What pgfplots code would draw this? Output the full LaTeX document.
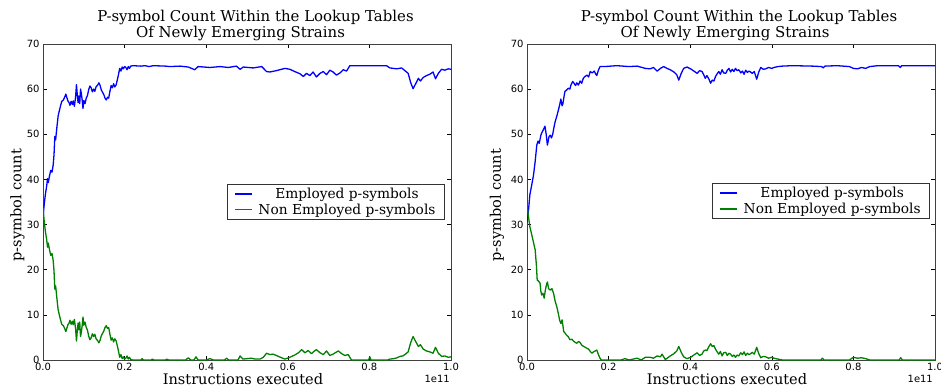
\documentclass[border=0pt]{standalone}
\usepackage{fontspec}
\setmainfont{DejaVu Serif}
\newfontfamily\tickfont{DejaVu Sans}
\usepackage{pgfplots}
\pgfplotsset{compat=1.18}
\definecolor{mplblue}{rgb}{0,0,1}
\definecolor{mplgreen}{rgb}{0,0.5,0}
\newcommand{\titfont}{\fontsize{15}{17}\selectfont}
\newcommand{\labfont}{\fontsize{14.6}{17}\selectfont}
\newcommand{\legfont}{\fontsize{13.8}{16}\selectfont}
\newcommand{\tfont}{\tickfont\fontsize{10}{12}\selectfont}
\pgfplotsset{myax/.style={
  scale only axis, width=408bp, height=316bp,
  xmin=0, xmax=1, ymin=0, ymax=70,
  xtick={0,0.2,0.4,0.6,0.8,1}, ytick={0,10,20,30,40,50,60,70},
  tick align=inside, xtick pos=both, ytick pos=both, major tick length=4bp,
  tick style={black, line width=0.6bp},
  axis line style={black!75, line width=0.9bp},
  ticklabel style={font=\tfont},
  /pgf/number format/assume math mode=true,
  xticklabel={\pgfmathprintnumber[fixed,precision=1,zerofill]{\tick}},
  yticklabel={\pgfmathprintnumber[fixed,precision=0]{\tick}},
  xlabel={Instructions executed},
  xlabel style={at={(axis description cs:0.5,0)}, anchor=base, yshift=-24bp, xshift=-4bp, font=\labfont},
  ylabel={p-symbol count},
  legend style={at={(0.985,0.557)}, anchor=north east, draw=black!80, line width=0.8bp, font=\legfont, row sep=0pt, inner xsep=7bp, inner ysep=1.5bp,
    nodes={inner sep=2bp}, /tikz/every odd column/.style={column sep=4bp}},
  legend cell align=center,
  every axis plot/.append style={line width=1.3bp, line join=round},
}}
\pgfplotstableread{
u v
0.000 31.5
0.003 34.5
0.006 36.8
0.009 38.5
0.011 40.2
0.013 39.3
0.016 40.8
0.019 42.0
0.022 41.6
0.025 43.2
0.027 45.5
0.029 49.5
0.031 48.8
0.034 51.5
0.037 54.0
0.040 55.2
0.043 56.3
0.046 57.3
0.050 57.6
0.053 58.2
0.056 58.9
0.058 58.3
0.061 57.4
0.064 57.0
0.066 56.4
0.069 57.3
0.072 56.6
0.074 57.4
0.077 56.2
0.080 58.4
0.082 61.0
0.084 58.8
0.086 57.0
0.088 58.5
0.090 56.8
0.092 60.0
0.094 59.0
0.096 57.6
0.098 55.7
0.100 57.5
0.103 56.8
0.106 58.0
0.109 58.6
0.112 59.9
0.115 60.7
0.118 60.3
0.121 59.4
0.124 60.0
0.127 59.5
0.130 60.5
0.134 60.9
0.137 61.4
0.140 60.8
0.143 59.8
0.146 59.3
0.149 58.8
0.152 58.0
0.155 57.6
0.158 58.2
0.161 58.0
0.164 59.5
0.167 60.8
0.170 60.3
0.173 61.2
0.176 60.5
0.179 60.9
0.182 62.0
0.185 63.2
0.188 64.6
0.191 64.0
0.194 64.9
0.197 64.5
0.200 65.0
0.203 64.8
0.206 64.3
0.209 65.0
0.212 64.6
0.215 65.1
0.220 65.2
0.240 65.1
0.250 65.2
0.260 65.0
0.270 65.2
0.300 65.1
0.311 65.0
0.336 65.1
0.356 64.9
0.372 64.3
0.380 65.0
0.409 64.8
0.434 65.0
0.454 64.8
0.474 65.1
0.483 64.4
0.491 64.9
0.515 64.7
0.536 65.0
0.548 63.9
0.556 63.8
0.572 64.1
0.593 64.6
0.605 64.4
0.617 63.9
0.630 63.4
0.638 62.8
0.646 63.5
0.654 63.0
0.662 63.8
0.670 62.7
0.679 63.5
0.687 63.9
0.695 63.2
0.703 64.2
0.711 63.8
0.719 63.1
0.728 63.6
0.736 64.3
0.744 64.0
0.752 65.2
0.842 65.2
0.850 64.7
0.867 64.5
0.879 64.7
0.887 64.1
0.895 63.5
0.901 61.5
0.907 60.1
0.914 61.3
0.920 62.4
0.925 61.8
0.932 62.6
0.940 63.0
0.948 63.3
0.956 63.8
0.962 62.3
0.969 63.5
0.977 64.4
0.985 64.2
0.993 64.5
1.000 64.4
}\leftblue
\pgfplotstableread{
u v
0.000 33.7
0.003 30.7
0.006 28.4
0.009 26.7
0.011 25.0
0.013 25.9
0.016 24.4
0.019 23.2
0.022 23.6
0.025 22.0
0.027 19.7
0.029 15.7
0.031 16.4
0.034 13.7
0.037 11.2
0.040 10.0
0.043 8.9
0.046 7.9
0.050 7.6
0.053 7.0
0.056 6.3
0.058 6.9
0.061 7.8
0.064 8.2
0.066 8.8
0.069 7.9
0.072 8.6
0.074 7.8
0.077 9.0
0.080 6.8
0.082 4.2
0.084 6.4
0.086 8.2
0.088 6.7
0.090 8.4
0.092 5.2
0.094 6.2
0.096 7.6
0.098 9.5
0.100 7.7
0.103 8.4
0.106 7.2
0.109 6.6
0.112 5.3
0.115 4.5
0.118 4.9
0.121 5.8
0.124 5.2
0.127 5.7
0.130 4.7
0.134 4.3
0.137 3.8
0.140 4.4
0.143 5.4
0.146 5.9
0.149 6.4
0.152 7.2
0.155 7.6
0.158 7.0
0.161 7.2
0.164 5.7
0.167 4.4
0.170 4.9
0.173 4.0
0.176 4.7
0.179 4.3
0.182 3.2
0.185 2.0
0.188 0.6
0.191 1.2
0.194 0.3
0.197 0.7
0.200 0.2
0.203 0.4
0.206 0.9
0.209 0.2
0.212 0.6
0.215 0.1
0.220 0.0
0.240 0.0
0.243 0.3
0.246 0.0
0.265 0.0
0.268 0.2
0.272 0.0
0.300 0.0
0.304 0.2
0.308 0.0
0.350 0.0
0.356 0.5
0.362 0.0
0.370 0.0
0.375 0.7
0.380 0.0
0.400 0.0
0.409 0.3
0.418 0.0
0.445 0.0
0.450 0.4
0.455 0.0
0.478 0.0
0.483 0.9
0.490 0.2
0.500 0.3
0.511 0.4
0.520 0.2
0.532 0.2
0.540 0.6
0.548 1.5
0.556 1.2
0.564 1.3
0.572 1.0
0.582 0.6
0.593 0.2
0.605 0.6
0.617 1.1
0.626 1.6
0.634 2.3
0.642 1.6
0.650 2.1
0.658 1.4
0.664 1.9
0.670 2.3
0.679 1.6
0.687 1.2
0.695 2.0
0.703 1.0
0.711 1.3
0.718 1.7
0.724 2.0
0.732 1.4
0.740 1.0
0.748 1.2
0.756 0.0
0.798 0.0
0.801 0.7
0.804 0.0
0.845 0.0
0.850 0.2
0.860 0.3
0.868 0.5
0.875 0.8
0.882 0.9
0.887 1.2
0.895 1.8
0.901 3.8
0.907 5.2
0.914 4.0
0.920 3.0
0.925 3.4
0.932 2.4
0.940 2.0
0.948 1.8
0.956 1.5
0.962 2.8
0.969 1.5
0.977 0.8
0.985 0.9
0.993 0.6
1.000 0.7
}\leftgreen
\pgfplotstableread{
u v
0.000 30.5
0.004 33.5
0.007 36.6
0.011 38.5
0.016 41.0
0.020 44.0
0.024 47.6
0.027 48.5
0.030 48.0
0.034 49.8
0.037 50.5
0.040 51.0
0.044 51.8
0.047 50.0
0.050 47.6
0.054 49.5
0.057 49.8
0.060 49.2
0.063 50.0
0.066 51.5
0.069 52.8
0.073 54.0
0.077 55.4
0.080 56.5
0.083 57.8
0.086 56.3
0.088 56.8
0.091 58.5
0.093 59.5
0.097 59.8
0.101 60.2
0.105 60.0
0.108 61.0
0.112 61.7
0.116 61.2
0.119 60.8
0.122 61.4
0.126 60.9
0.130 61.8
0.134 61.3
0.138 62.4
0.142 62.8
0.147 63.1
0.151 62.7
0.155 63.9
0.160 63.6
0.165 64.0
0.168 63.4
0.171 63.0
0.175 64.2
0.179 65.0
0.190 65.0
0.220 65.2
0.250 65.0
0.270 65.1
0.290 64.6
0.302 64.5
0.310 64.8
0.319 64.0
0.327 64.6
0.335 65.0
0.343 64.6
0.351 64.3
0.360 63.8
0.367 63.2
0.372 62.0
0.378 63.5
0.384 64.6
0.392 64.9
0.401 64.5
0.409 64.0
0.417 63.5
0.423 64.1
0.429 63.9
0.433 63.2
0.437 62.4
0.441 63.0
0.446 62.2
0.450 61.3
0.454 62.0
0.458 61.8
0.462 62.8
0.466 63.4
0.470 63.9
0.474 63.3
0.478 64.3
0.482 63.6
0.487 63.5
0.491 64.2
0.495 64.6
0.499 63.8
0.503 64.4
0.507 63.9
0.511 64.6
0.515 64.1
0.519 64.3
0.524 63.6
0.528 64.0
0.532 63.3
0.536 64.2
0.540 63.7
0.544 64.0
0.548 63.8
0.552 63.5
0.557 63.9
0.563 62.2
0.568 63.8
0.573 64.8
0.579 64.4
0.585 64.5
0.592 64.8
0.600 64.6
0.605 64.8
0.615 65.0
0.626 65.1
0.650 65.2
0.700 65.1
0.722 65.0
0.726 64.7
0.730 65.1
0.760 65.2
0.790 65.0
0.800 64.6
0.810 64.5
0.820 64.8
0.830 64.6
0.840 65.0
0.860 65.2
0.910 65.2
0.915 64.8
0.918 65.2
1.000 65.2
}\rightblue
\pgfplotstableread{
u v
0.000 34.5
0.004 31.5
0.007 29.5
0.011 28.0
0.016 26.0
0.020 24.4
0.023 21.0
0.025 17.7
0.028 17.5
0.032 17.0
0.034 15.2
0.036 14.4
0.039 14.8
0.042 13.7
0.045 15.5
0.048 16.8
0.050 17.3
0.053 15.8
0.057 15.5
0.061 15.8
0.065 14.8
0.069 13.0
0.073 11.8
0.077 10.2
0.080 8.8
0.083 8.1
0.086 8.9
0.090 6.3
0.093 6.0
0.097 5.5
0.101 5.2
0.105 4.5
0.110 4.6
0.114 4.2
0.118 3.9
0.122 3.7
0.126 4.1
0.130 3.9
0.134 3.3
0.139 3.0
0.143 2.8
0.147 2.6
0.151 2.4
0.155 1.9
0.159 1.5
0.163 1.8
0.167 2.0
0.171 2.2
0.175 1.2
0.179 0.4
0.182 0.0
0.230 0.0
0.240 0.3
0.250 0.0
0.270 0.4
0.280 0.0
0.290 0.6
0.302 0.6
0.310 0.4
0.319 0.9
0.327 0.7
0.331 1.3
0.339 0.1
0.345 0.5
0.351 0.9
0.360 1.4
0.367 2.0
0.372 3.0
0.378 1.7
0.384 0.7
0.392 0.3
0.401 0.6
0.409 1.1
0.417 1.6
0.423 1.0
0.429 1.3
0.433 2.0
0.437 2.2
0.441 2.1
0.446 3.0
0.450 3.6
0.454 3.0
0.458 3.2
0.462 2.4
0.466 1.8
0.470 1.3
0.474 1.9
0.478 0.9
0.482 1.6
0.487 1.7
0.491 1.0
0.495 1.5
0.499 1.3
0.503 0.8
0.507 1.1
0.511 0.6
0.515 1.1
0.519 0.9
0.524 1.6
0.528 1.2
0.532 1.8
0.536 1.0
0.540 1.5
0.544 1.2
0.548 1.4
0.552 1.7
0.557 1.3
0.563 2.8
0.568 1.4
0.573 0.5
0.579 0.8
0.585 0.7
0.592 0.4
0.600 0.6
0.605 0.4
0.615 0.2
0.626 0.0
0.720 0.0
0.724 0.4
0.728 0.0
0.790 0.0
0.800 0.6
0.810 0.4
0.820 0.5
0.830 0.3
0.840 0.0
0.912 0.0
0.916 0.5
0.920 0.0
1.000 0.0
}\rightgreen
\begin{document}
\begin{tikzpicture}[x=1bp,y=1bp]
\path[use as bounding box] (0,0) rectangle (941,387);
\begin{axis}[myax, at={(43bp,27bp)}, anchor=south west,
  ylabel style={at={(axis description cs:0,0.49)}, anchor=center, yshift=25.5bp, font=\labfont}]
\addplot[mplblue] table[x=u,y=v] {\leftblue};
\addlegendentry{Employed p-symbols}
\addplot[mplgreen] table[x=u,y=v] {\leftgreen};
\addlegendentry{Non Employed p-symbols}
\end{axis}
\begin{axis}[myax, at={(527bp,27bp)}, anchor=south west,
  legend style={at={(0.988,0.56)}},
  ylabel style={at={(axis description cs:0,0.49)}, anchor=center, yshift=30bp, font=\labfont}]
\addplot[mplblue] table[x=u,y=v] {\rightblue};
\addlegendentry{Employed p-symbols}
\addplot[mplgreen] table[x=u,y=v] {\rightgreen};
\addlegendentry{Non Employed p-symbols}
\end{axis}
\node[anchor=base, font=\titfont] at (255.5,366) {P-symbol Count Within the Lookup Tables};
\node[anchor=base, font=\titfont] at (240.5,349.3) {Of Newly Emerging Strains};
\node[anchor=base, font=\titfont] at (739,366) {P-symbol Count Within the Lookup Tables};
\node[anchor=base, font=\titfont] at (725,349.3) {Of Newly Emerging Strains};
\node[anchor=base east, font=\tfont, inner sep=0pt] at (450,4.5) {1e11};
\node[anchor=base east, font=\tfont, inner sep=0pt] at (933,4.5) {1e11};
\end{tikzpicture}
\end{document}
